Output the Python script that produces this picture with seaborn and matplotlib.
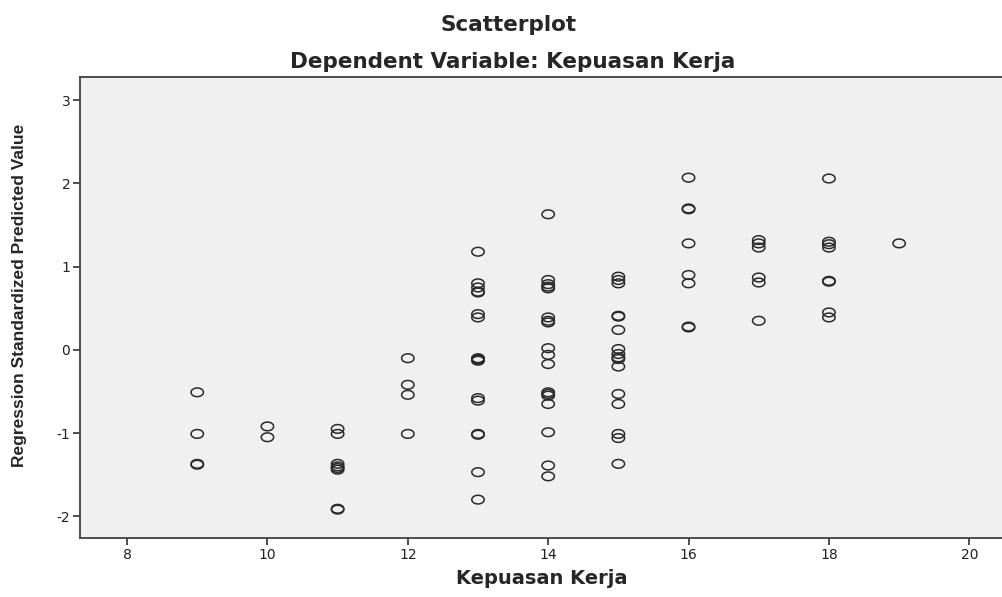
import numpy as np
import pandas as pd
import matplotlib
matplotlib.use("Agg")
import matplotlib.pyplot as plt
from matplotlib.path import Path
import seaborn as sns

# values
kepuasan = [9, 9, 9, 9,
            10, 10,
            11, 11, 11, 11, 11, 11, 11, 11,
            12, 12, 12, 12,
            13, 13, 13, 13, 13, 13, 13, 13, 13, 13, 13, 13, 13, 13, 13, 13, 13,
            14, 14, 14, 14, 14, 14, 14, 14, 14, 14, 14, 14, 14, 14, 14, 14, 14, 14,
            15, 15, 15, 15, 15, 15, 15, 15, 15, 15, 15, 15, 15, 15, 15, 15,
            16, 16, 16, 16, 16, 16, 16, 16,
            17, 17, 17, 17, 17, 17,
            18, 18, 18, 18, 18, 18, 18, 18,
            19]
pred = [-0.51, -1.01, -1.37, -1.38,
        -0.92, -1.05,
        -0.95, -1.01, -1.37, -1.40, -1.42, -1.44, -1.91, -1.92,
        -0.10, -0.42, -0.54, -1.01,
        1.18, 0.80, 0.75, 0.69, 0.43, 0.39, -0.10, -0.12, -0.13, -0.58, -0.61,
        -1.01, -1.02, -1.47, -1.80, 0.70, -0.11,
        1.63, 0.84, 0.79, 0.74, 0.76, 0.39, 0.33, 0.02, -0.06, -0.17, -0.51,
        -0.53, -0.55, -0.65, -0.99, -1.39, -1.52, 0.35,
        0.88, 0.84, 0.80, 0.40, 0.41, 0.24, 0.01, -0.05, -0.11, -0.20, -0.53,
        -0.65, -1.01, -1.06, -1.37, -0.09,
        2.07, 1.69, 1.70, 1.28, 0.90, 0.80, 0.27, 0.28,
        1.32, 1.28, 1.23, 0.87, 0.81, 0.35,
        2.06, 1.30, 1.27, 1.23, 0.82, 0.83, 0.45, 0.39,
        1.28]

df = pd.DataFrame({"Kepuasan Kerja": kepuasan, "Predicted": pred})

sns.set_style("white")
plt.rcParams['font.family'] = ['DejaVu Sans']
plt.rcParams['axes.unicode_minus'] = False

fig = plt.figure(figsize=(10.03, 5.97), dpi=100)
ax = fig.add_axes([0.0798, 0.099, 0.9202, 0.772])
ax.set_facecolor("#f0f0f0")

# slightly flattened open circle like the SPSS marker
t = np.linspace(0, 2 * np.pi, 40)
ellipse = Path(np.column_stack([np.cos(t), 0.7 * np.sin(t)]))

sns.scatterplot(data=df, x="Kepuasan Kerja", y="Predicted", ax=ax,
                marker=ellipse, s=80, facecolor="none",
                edgecolor="#2a2a2a", linewidth=1.1)

ax.set_xlim(7.33, 20.48)
ax.set_ylim(-2.26, 3.28)
ax.set_xticks([8, 10, 12, 14, 16, 18, 20])
ax.set_yticks([-2, -1, 0, 1, 2, 3])
ax.tick_params(axis="both", direction="out", length=5, width=1.2,
               bottom=True, left=True,
               color="#303030", labelsize=10, labelcolor="#202020", pad=2)
for side in ["left", "bottom", "top"]:
    ax.spines[side].set_visible(True)
    ax.spines[side].set_color("#404040")
    ax.spines[side].set_linewidth(1.3)
ax.spines["right"].set_visible(False)

ax.set_xlabel("Kepuasan Kerja", fontsize=14, fontweight="bold", labelpad=5)
ax.set_ylabel("Regression Standardized Predicted Value", fontsize=12.5,
              fontweight="bold", family=['Liberation Sans', 'DejaVu Sans'])
ax.yaxis.set_label_coords(-0.058, 0.527)

fig.text(0.507, 0.958, "Scatterplot", ha="center", va="center",
         fontsize=15.5, fontweight="bold")
fig.text(0.511, 0.896, "Dependent Variable: Kepuasan Kerja", ha="center",
         va="center", fontsize=15.5, fontweight="bold")

fig.savefig("out.png", dpi=100, facecolor="white")
